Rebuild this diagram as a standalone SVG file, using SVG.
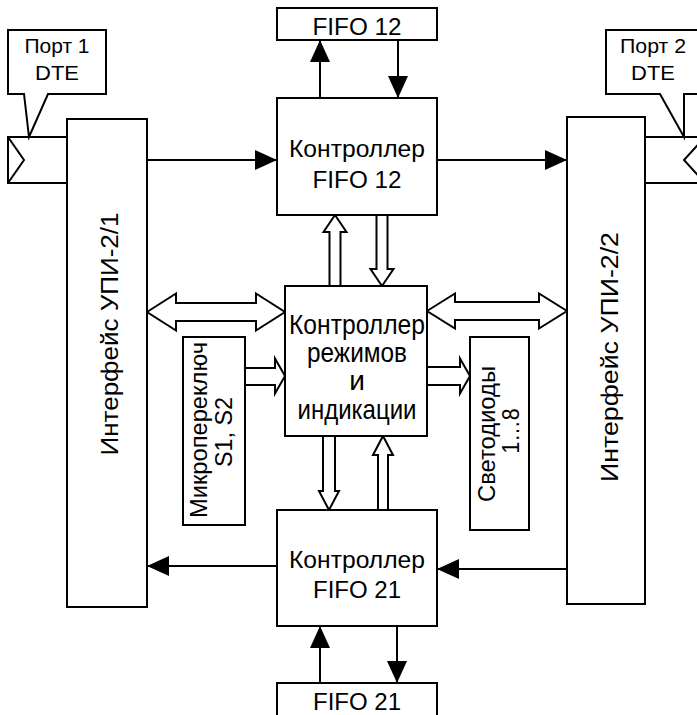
<svg xmlns="http://www.w3.org/2000/svg" width="697" height="715" viewBox="0 0 697 715">
<style>
.box{fill:#fff;stroke:#000;stroke-width:2}
.ln{fill:none;stroke:#000;stroke-width:2}
.arr{fill:none;stroke:#000;stroke-width:2;marker-end:url(#ah)}
.hol{fill:#fff;stroke:#000;stroke-width:2;stroke-linejoin:miter}
text{font-family:"Liberation Sans",Arial,sans-serif;font-size:24px;fill:#000;text-anchor:middle}
.sm{font-size:21px}
.big{font-size:28px}
.upi{font-size:23px}
</style>
<defs>
<marker id="ah" markerUnits="userSpaceOnUse" markerWidth="22" markerHeight="20" refX="22" refY="10" orient="auto">
<path d="M0,0 L22,10 L0,20 Z" fill="#000"/>
</marker>
</defs>
<rect width="697" height="715" fill="#fff"/>

<g id="connectors">
<line class="arr" x1="147" y1="160" x2="277" y2="160"/>
<line class="arr" x1="437" y1="160" x2="567" y2="160"/>
<line class="arr" x1="320" y1="98" x2="320" y2="40"/>
<line class="arr" x1="398" y1="40" x2="398" y2="98"/>
<line class="arr" x1="277" y1="566" x2="147" y2="566"/>
<line class="arr" x1="567" y1="569" x2="437" y2="569"/>
<line class="arr" x1="320" y1="683" x2="320" y2="626"/>
<line class="arr" x1="397" y1="626" x2="397" y2="683"/>
<polygon class="hol" points="335,215 346.5,232 340.5,232 340.5,286 329.5,286 329.5,232 323.5,232"/>
<polygon class="hol" points="382,286 393.5,269 387.5,269 387.5,215 376.5,215 376.5,269 370.5,269"/>
<polygon class="hol" points="329,510 339,491 335,491 335,436 323,436 323,491 319,491"/>
<polygon class="hol" points="383,436 393,455 388,455 388,510 378,510 378,455 373,455"/>
<polygon class="hol" points="147,312 176,293.5 176,303 256,303 256,293.5 285,312 256,330.5 256,321 176,321 176,330.5"/>
<polygon class="hol" points="427,311 455,293.5 455,302 539,302 539,293.5 567,311 539,328.5 539,320 455,320 455,328.5"/>
<polygon class="hol" points="245,368 275,368 275,358.5 285,376 275,393.5 275,385 245,385"/>
<polygon class="hol" points="427,367 460,367 460,358.5 470,376 460,393.5 460,385 427,385"/>
</g>

<g id="port1">
<path class="box" d="M8,30 H106 V94 H48 L29,137 L24,94 H8 Z"/>
<text class="sm" x="57" y="53" textLength="65" lengthAdjust="spacingAndGlyphs">Порт 1</text>
<text class="sm" x="57" y="80" textLength="44" lengthAdjust="spacingAndGlyphs">DTE</text>
<path class="ln" d="M67,137 H8 V183 H67 M8,137 L24,160 L8,183"/>
</g>

<g id="port2">
<path class="box" d="M606,30 H705 V94 H684 V137 L660,94 H606 Z"/>
<text class="sm" x="653" y="53" textLength="66" lengthAdjust="spacingAndGlyphs">Порт 2</text>
<text class="sm" x="653" y="80" textLength="44" lengthAdjust="spacingAndGlyphs">DTE</text>
<path class="ln" d="M645,137 H705 M645,183 H705 M705,137 L684,160 L705,183"/>
</g>

<g id="upi1">
<rect class="box" x="67" y="119" width="80" height="488"/>
<text class="upi" transform="translate(118,334) rotate(-90)" textLength="243" lengthAdjust="spacingAndGlyphs">Интерфейс УПИ-2/1</text>
</g>

<g id="upi2">
<rect class="box" x="567" y="117" width="78" height="487"/>
<text class="upi" transform="translate(618,357) rotate(-90)" textLength="250" lengthAdjust="spacingAndGlyphs">Интерфейс УПИ-2/2</text>
</g>

<g id="fifo12">
<rect class="box" x="277" y="8" width="160" height="32"/>
<text x="357" y="35" textLength="89" lengthAdjust="spacingAndGlyphs">FIFO 12</text>
</g>

<g id="ctrl12">
<rect class="box" x="277" y="98" width="160" height="117"/>
<text x="357" y="157" textLength="136" lengthAdjust="spacingAndGlyphs">Контроллер</text>
<text x="357" y="188" textLength="89" lengthAdjust="spacingAndGlyphs">FIFO 12</text>
</g>

<g id="ctrlmode">
<rect class="box" x="285" y="286" width="142" height="150"/>
<text class="big" x="357" y="334" textLength="136" lengthAdjust="spacingAndGlyphs">Контроллер</text>
<text class="big" x="357" y="362" textLength="100" lengthAdjust="spacingAndGlyphs">режимов</text>
<text class="big" x="357" y="390">и</text>
<text class="big" x="357" y="419" textLength="119" lengthAdjust="spacingAndGlyphs">индикации</text>
</g>

<g id="switch">
<rect class="box" x="183" y="337" width="62" height="188"/>
<text transform="translate(207,430) rotate(-90)" textLength="176" lengthAdjust="spacingAndGlyphs">Микропереключ</text>
<text transform="translate(232,432) rotate(-90)" textLength="70" lengthAdjust="spacingAndGlyphs">S1, S2</text>
</g>

<g id="leds">
<rect class="box" x="470" y="337" width="59" height="193"/>
<text transform="translate(495,434) rotate(-90)" textLength="136" lengthAdjust="spacingAndGlyphs">Светодиоды</text>
<text transform="translate(519,431) rotate(-90)" textLength="45" lengthAdjust="spacingAndGlyphs">1…8</text>
</g>

<g id="ctrl21">
<rect class="box" x="277" y="510" width="160" height="116"/>
<text x="357" y="568" textLength="136" lengthAdjust="spacingAndGlyphs">Контроллер</text>
<text x="357" y="598" textLength="88" lengthAdjust="spacingAndGlyphs">FIFO 21</text>
</g>

<g id="fifo21">
<rect class="box" x="277" y="683" width="160" height="40"/>
<text x="357" y="710" textLength="88" lengthAdjust="spacingAndGlyphs">FIFO 21</text>
</g>
</svg>
